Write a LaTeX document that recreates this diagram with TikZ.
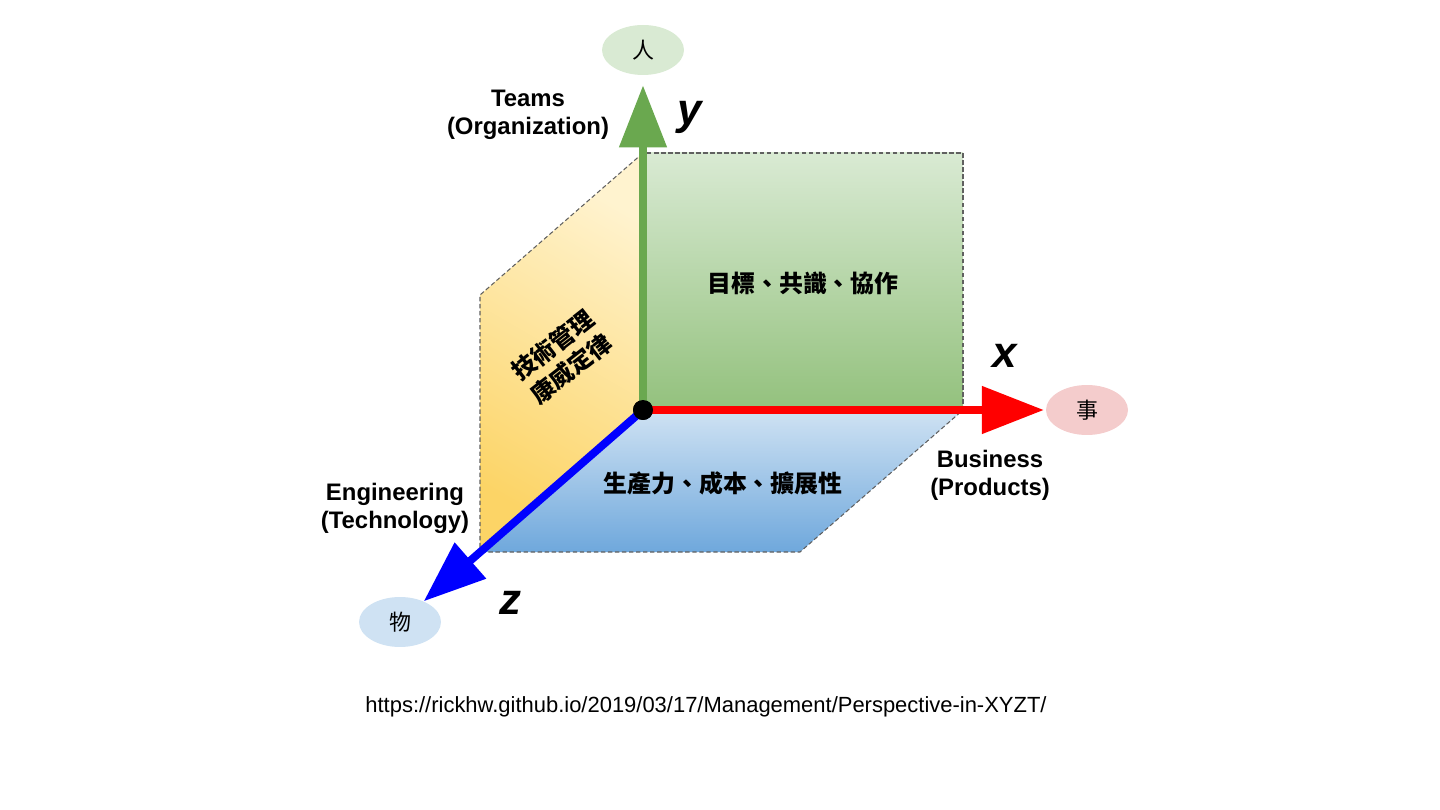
\documentclass[tikz,border=0pt]{standalone}
\usepackage{fontspec}
\setmainfont{Liberation Sans}
\newfontfamily\cjk{Noto Sans CJK TC}
\usetikzlibrary{arrows.meta}
\usetikzlibrary{shapes.geometric}
\definecolor{axisGreen}{HTML}{6AA84F}
\definecolor{axisRed}{HTML}{FF0000}
\definecolor{axisBlue}{HTML}{0000FF}
\definecolor{renFill}{HTML}{D9EAD3}
\definecolor{shiFill}{HTML}{F4CCCC}
\definecolor{wuFill}{HTML}{CFE2F3}
\tikzset{myPanel/.style={draw=gray!75!black, line width=0.6pt, dash pattern=on 2.5pt off 1.5pt}}
\tikzset{myAxis/.style={line width=4.5pt, -{Triangle[length=1.24cm, width=0.92cm]}}}
\tikzset{myBubble/.style={ellipse, minimum width=1.64cm, minimum height=1cm, inner sep=0pt, font=\cjk\fontsize{12.5}{14}\selectfont}}
\tikzset{myLabel/.style={align=center, font=\bfseries\fontsize{13.6}{15.9}\selectfont}}
\tikzset{myLetter/.style={font=\bfseries\itshape\fontsize{25}{25}\selectfont}}
\tikzset{myCjk/.style={align=center, font=\cjk\bfseries\fontsize{13.6}{15.9}\selectfont}}
\begin{document}
\begin{tikzpicture}[x=0.02cm, y=-0.02cm]
\useasboundingbox (0, 0) rectangle (1440, 810);

% the three faces
\draw[myPanel, top color=renFill, bottom color={rgb,255:red,147;green,193;blue,125}]
  (643, 153) rectangle (963, 410);
\draw[myPanel, top color={rgb,255:red,255;green,243;blue,207}, bottom color={rgb,255:red,252;green,212;blue,102}, shading angle=-30]
  (643, 153) -- (643, 410) -- (480, 552) -- (480, 295) -- cycle;
\draw[myPanel, top color=wuFill, bottom color={rgb,255:red,111;green,168;blue,220}]
  (643, 410) -- (963, 410) -- (800, 552) -- (480, 552) -- cycle;

\node[myBubble, fill=renFill] (ren) at (643, 50) {人};
\node[myBubble, fill=shiFill] (shi) at (1087, 410) {事};
\node[myBubble, fill=wuFill] (wu) at (400, 622) {物};

\node[circle, fill=black, minimum size=0.4cm, inner sep=0pt] (o) at (643, 410) {};

\draw[myAxis, axisGreen, shorten >=0.2cm] (o.center) -- (ren);
\draw[myAxis, axisRed, shorten >=1pt] (o.center) -- (shi);
\draw[myAxis, axisBlue] (o.center) -- (wu);
\node[circle, fill=black, minimum size=0.4cm, inner sep=0pt] () at (o) {};

\node[myLabel] (teams) at (528, 115) {Teams\\(Organization)};
\node[myLabel] (business) at (990, 475) {Business\\(Products)};
\node[myLabel] (engineering) at (395, 508) {Engineering\\(Technology)};

\node[myLetter] (ly) at (690, 117) {y};
\node[myLetter] (lx) at (1005, 356) {x};
\node[myLetter] (lz) at (510, 603) {z};

\node[myCjk] (xy) at (803, 283) {目標、共識、協作};
\node[myCjk] (xz) at (723, 483) {生產力、成本、擴展性};
\node[myCjk, font=\cjk\bfseries\fontsize{13.6}{17}\selectfont, rotate=38] (yz) at (562, 357) {技術管理\\康威定律};

\node[font=\fontsize{12.5}{14}\selectfont] (url) at (706, 707) {https://rickhw.github.io/2019/03/17/Management/Perspective-in-XYZT/};

\end{tikzpicture}
\end{document}
